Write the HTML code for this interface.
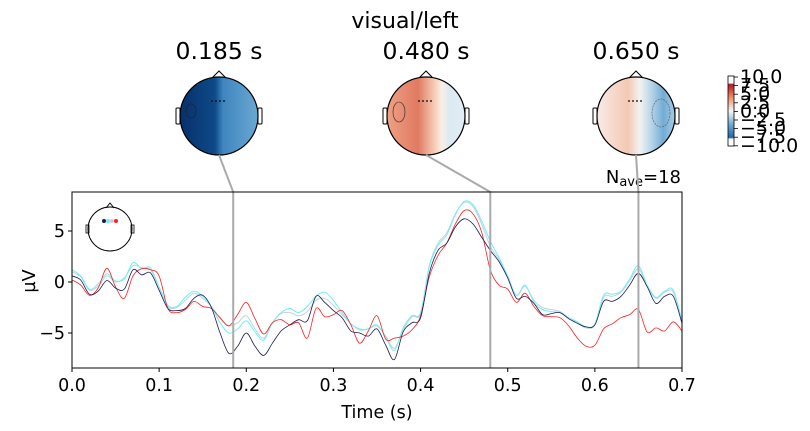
<!DOCTYPE html>
<html><head><meta charset="utf-8"><style>
body{margin:0;background:#fff;}
svg{display:block;font-family:"DejaVu Sans","Liberation Sans",sans-serif;}
</style></head><body>
<svg id="fig" width="810" height="431" viewBox="0 0 810 431">
<defs>
<linearGradient id="g1" x1="0" x2="1" y1="0" y2="0">
<stop offset="0" stop-color="#08306b"/><stop offset="0.45" stop-color="#0d4a87"/><stop offset="0.55" stop-color="#3f86bf"/><stop offset="1" stop-color="#6aa8d2"/></linearGradient>
<linearGradient id="g2" x1="0" x2="1" y1="0" y2="0">
<stop offset="0" stop-color="#eea084"/><stop offset="0.4" stop-color="#e07a62"/><stop offset="0.6" stop-color="#f6c9b2"/><stop offset="0.7" stop-color="#fbeee6"/><stop offset="0.8" stop-color="#dbe9f2"/><stop offset="1" stop-color="#e3eef5"/></linearGradient>
<linearGradient id="g3" x1="0" x2="1" y1="0" y2="0">
<stop offset="0" stop-color="#f8ebe6"/><stop offset="0.4" stop-color="#f4c8b4"/><stop offset="0.55" stop-color="#f3f3f3"/><stop offset="0.7" stop-color="#b6d4e8"/><stop offset="0.85" stop-color="#73acd5"/><stop offset="1" stop-color="#a7cce4"/></linearGradient>
<linearGradient id="gcb" x1="0" x2="0" y1="0" y2="1">
<stop offset="0" stop-color="#fff"/><stop offset="0.1" stop-color="#fff"/><stop offset="0.12" stop-color="#b2182b"/><stop offset="0.3" stop-color="#ef8a62"/><stop offset="0.5" stop-color="#f7f7f7"/><stop offset="0.7" stop-color="#67a9cf"/><stop offset="0.88" stop-color="#2166ac"/><stop offset="0.9" stop-color="#fff"/><stop offset="1" stop-color="#fff"/></linearGradient>
</defs>
<text x="405" y="28" font-size="22" text-anchor="middle">visual/left</text>
<g id="topos"></g>
<g id="cbar"></g>
<text x="681" y="183" font-size="18" text-anchor="end">N<tspan font-size="13" dy="3">ave</tspan><tspan dy="-3">=18</tspan></text>
<g id="plot"></g>
</svg>
<script>
const times=[];for(let i=0;i<=70;i++)times.push(i/100);
const navy=[0.6,0.2,-1.2,-0.9,0.15,-0.6,-0.7,1.2,0.7,0.9,-0.8,-2.6,-2.8,-2.6,-1.6,-1.3,-2.5,-5.0,-7.0,-6.3,-5.0,-6.3,-7.2,-6.0,-4.8,-4.2,-3.7,-3.8,-1.4,-2.0,-2.8,-3.5,-4.8,-5.0,-5.3,-4.6,-6.2,-7.6,-4.9,-4.0,-3.5,0.85,3.1,3.8,5.4,6.2,5.7,4.4,3.1,2.0,0.4,-1.6,-1.4,-2.1,-3.2,-3.1,-3.0,-3.6,-4.05,-4.4,-4.2,-1.9,-1.9,-1.4,-0.3,0.85,-0.45,-2.1,-1.4,-1.4,-4.05];
const cyan=[1.2,0.6,-0.7,-0.2,0.8,0.1,0.3,1.9,1.3,1.4,-0.5,-2.3,-2.4,-1.5,-0.9,-1.4,-2.4,-4.0,-5.0,-4.6,-3.8,-4.9,-5.7,-4.0,-3.0,-2.6,-3.0,-2.4,-1.4,-1.0,-1.8,-3.0,-4.1,-4.6,-4.6,-4.2,-5.4,-6.7,-4.5,-3.3,-3.0,1.5,3.6,4.6,6.6,7.9,7.6,6.0,4.0,2.4,0.6,-1.3,-0.3,-2.0,-2.7,-2.9,-3.0,-3.5,-3.9,-4.4,-4.1,-1.3,-1.2,-0.9,0.3,1.6,-0.3,-1.5,-0.9,-0.8,-3.8];
const gray=[1.0,0.5,-0.8,-0.4,0.6,0.0,0.4,1.6,1.4,1.2,-0.5,-2.4,-2.5,-1.8,-1.1,-1.6,-2.4,-3.6,-4.3,-4.0,-3.3,-4.6,-5.5,-4.0,-3.1,-3.0,-3.3,-2.9,-1.8,-1.6,-2.3,-3.2,-4.1,-4.7,-4.6,-4.3,-5.3,-6.5,-4.7,-3.4,-3.1,1.6,3.8,4.8,6.7,7.8,7.4,5.7,3.5,2.2,0.5,-1.3,-0.4,-1.8,-2.5,-2.7,-2.9,-3.5,-4.0,-4.5,-4.2,-1.5,-1.4,-1.0,0.1,1.3,-0.4,-1.6,-1.0,-1.0,-3.9];
const red=[0.2,-0.3,-1.3,-0.6,1.35,-0.5,-1.6,0.6,1.3,1.2,0.6,-2.6,-3.0,-2.7,-1.9,-2.4,-2.6,-3.5,-4.3,-3.2,-2.0,-3.6,-5.1,-4.0,-3.7,-4.2,-4.0,-5.5,-2.6,-3.4,-3.2,-2.8,-4.2,-6.0,-4.8,-3.3,-5.6,-5.5,-5.3,-4.7,-3.3,0.5,2.6,3.8,5.7,7.0,6.7,4.9,1.2,-0.3,-0.7,-2.0,-1.1,-2.4,-3.3,-3.4,-3.5,-4.3,-5.5,-6.3,-6.2,-4.6,-4.1,-3.5,-3.2,-2.7,-4.9,-4.5,-4.8,-3.9,-4.8];
const xTicks=[0,0.1,0.2,0.3,0.4,0.5,0.6,0.7];
const yTicks=[-5,0,5];
const topoTimes=[0.185,0.48,0.65];
const topoLabels=["0.185 s","0.480 s","0.650 s"];
const cbTicks=["10.0","7.5","5.0","2.5","0.0","\u22122.5","\u22125.0","\u22127.5","\u221210.0"];

const NS="http://www.w3.org/2000/svg";
function mk(tag,attrs,parent){const e=document.createElementNS(NS,tag);for(const k in attrs)e.setAttribute(k,attrs[k]);parent.appendChild(e);return e;}
const L=72,R=682,T=192,B=368;
const xS=t=>L+(t-0)/(0.7)*(R-L);
const yS=v=>282-v*10.2;
const plot=document.getElementById('plot');
function smooth(arr){
  const pts=arr.map((v,i)=>[xS(times[i]),yS(v)]);
  let d='M'+pts[0][0].toFixed(1)+','+pts[0][1].toFixed(1);
  for(let i=0;i<pts.length-1;i++){
    const p0=pts[Math.max(0,i-1)],p1=pts[i],p2=pts[i+1],p3=pts[Math.min(pts.length-1,i+2)];
    const c1=[p1[0]+(p2[0]-p0[0])/6,p1[1]+(p2[1]-p0[1])/6];
    const c2=[p2[0]-(p3[0]-p1[0])/6,p2[1]-(p3[1]-p1[1])/6];
    d+='C'+c1.map(n=>n.toFixed(1)).join(',')+' '+c2.map(n=>n.toFixed(1)).join(',')+' '+p2.map(n=>n.toFixed(1)).join(',');
  }
  return d;
}
function line(arr,color,w,name){
  const p=mk('path',{d:smooth(arr),fill:'none',stroke:color,'stroke-width':w,'stroke-linejoin':'round'},plot);
  
  
}
line(gray,'#c0d2da',1,'trace-gray');
line(cyan,'#6ff0f5',1,'trace-cyan');
line(red,'#ff2020',0.8,'trace-red');
line(navy,'#1c1c50',0.8,'trace-navy');
const heads=[219,426,636];
topoTimes.forEach((t,i)=>{
  const v=mk('line',{x1:xS(t),x2:xS(t),y1:T,y2:B,stroke:'#aaa','stroke-width':2},plot);
  
  
  const c=mk('line',{x1:heads[i],y1:155,x2:xS(t),y2:T,stroke:'#aaa','stroke-width':2},plot);
  
  
});
const fr=mk('rect',{x:L,y:T,width:R-L,height:B-T,fill:'none',stroke:'#000','stroke-width':1},plot);


xTicks.forEach(t=>{
  mk('line',{x1:xS(t),x2:xS(t),y1:B,y2:B+4,stroke:'#000'},plot);
  const tx=mk('text',{x:xS(t),y:B+23,'font-size':17.5,'text-anchor':'middle'},plot);
  tx.textContent=t.toFixed(1);
  
  
});
yTicks.forEach(v=>{
  mk('line',{x1:L-4,x2:L,y1:yS(v),y2:yS(v),stroke:'#000'},plot);
  const tx=mk('text',{x:L-7,y:yS(v)+6,'font-size':17.5,'text-anchor':'end'},plot);
  tx.textContent=v<0?'\u2212'+(-v):String(v);
  
  
});
let xt=mk('text',{x:377,y:418,'font-size':17.5,'text-anchor':'middle'},plot);xt.textContent='Time (s)';


let yt=mk('text',{x:35,y:281,'font-size':17.5,'text-anchor':'middle',transform:'rotate(-90 35 281)'},plot);yt.textContent='\u00b5V';


const ins=mk('g',{},plot);


mk('circle',{cx:110,cy:229,r:22,fill:'none',stroke:'#000','stroke-width':1},ins);
mk('path',{d:'M106,208 L110,203 L114,208',fill:'none',stroke:'#000'},ins);
mk('rect',{x:86,y:225,width:3,height:8,fill:'none',stroke:'#000','stroke-width':0.8},ins);
mk('rect',{x:131,y:225,width:3,height:8,fill:'none',stroke:'#000','stroke-width':0.8},ins);
[[104,'#1c1c50'],[108,'#6ff0f5'],[112,'#c0d2da'],[116,'#ff2020']].forEach(s=>mk('circle',{cx:s[0],cy:221,r:2,fill:s[1]},ins));
const topos=document.getElementById('topos');
const grads=['g1','g2','g3'];
heads.forEach((cx,i)=>{
  const g=mk('g',{},topos);
  
  
  const cy=116,r=39;
  mk('path',{d:`M${cx-7},${cy-r+1} L${cx},${cy-r-6} L${cx+7},${cy-r+1}`,fill:'none',stroke:'#000'},g);
  mk('rect',{x:cx-r-4,y:cy-8,width:4,height:16,rx:1,fill:'none',stroke:'#000'},g);
  mk('rect',{x:cx+r,y:cy-8,width:4,height:16,rx:1,fill:'none',stroke:'#000'},g);
  mk('circle',{cx:cx,cy:cy,r:r,fill:'url(#'+grads[i]+')',stroke:'#000','stroke-width':1.2},g);
  [-6,-2,2,6].forEach(d=>mk('circle',{cx:cx+d-1,cy:cy-15,r:0.9,fill:'#000'},g));
  const tt=mk('text',{x:cx,y:59,'font-size':23.5,'text-anchor':'middle'},topos);
  tt.textContent=topoLabels[i];
  
  
});
mk('ellipse',{cx:191,cy:111,rx:5,ry:7,fill:'none',stroke:'#222','stroke-width':0.6},topos);
mk('ellipse',{cx:399,cy:112,rx:6,ry:10,fill:'none',stroke:'#222','stroke-width':0.6},topos);
mk('ellipse',{cx:661,cy:113,rx:9,ry:14,fill:'none',stroke:'#555','stroke-width':0.6,'stroke-dasharray':'2,1'},topos);
const cb=document.getElementById('cbar');
mk('rect',{x:728,y:76,width:6,height:70,fill:'url(#gcb)',stroke:'#000','stroke-width':0.8},cb);
cbTicks.forEach((s,i)=>{
  const y=77+i*8.6;
  mk('line',{x1:734,x2:738,y1:y,y2:y,stroke:'#000','stroke-width':0.8},cb);
  const tx=mk('text',{x:740,y:y+6,'font-size':19},cb);
  tx.textContent=s;
  
  
});
</script>
</body></html>
